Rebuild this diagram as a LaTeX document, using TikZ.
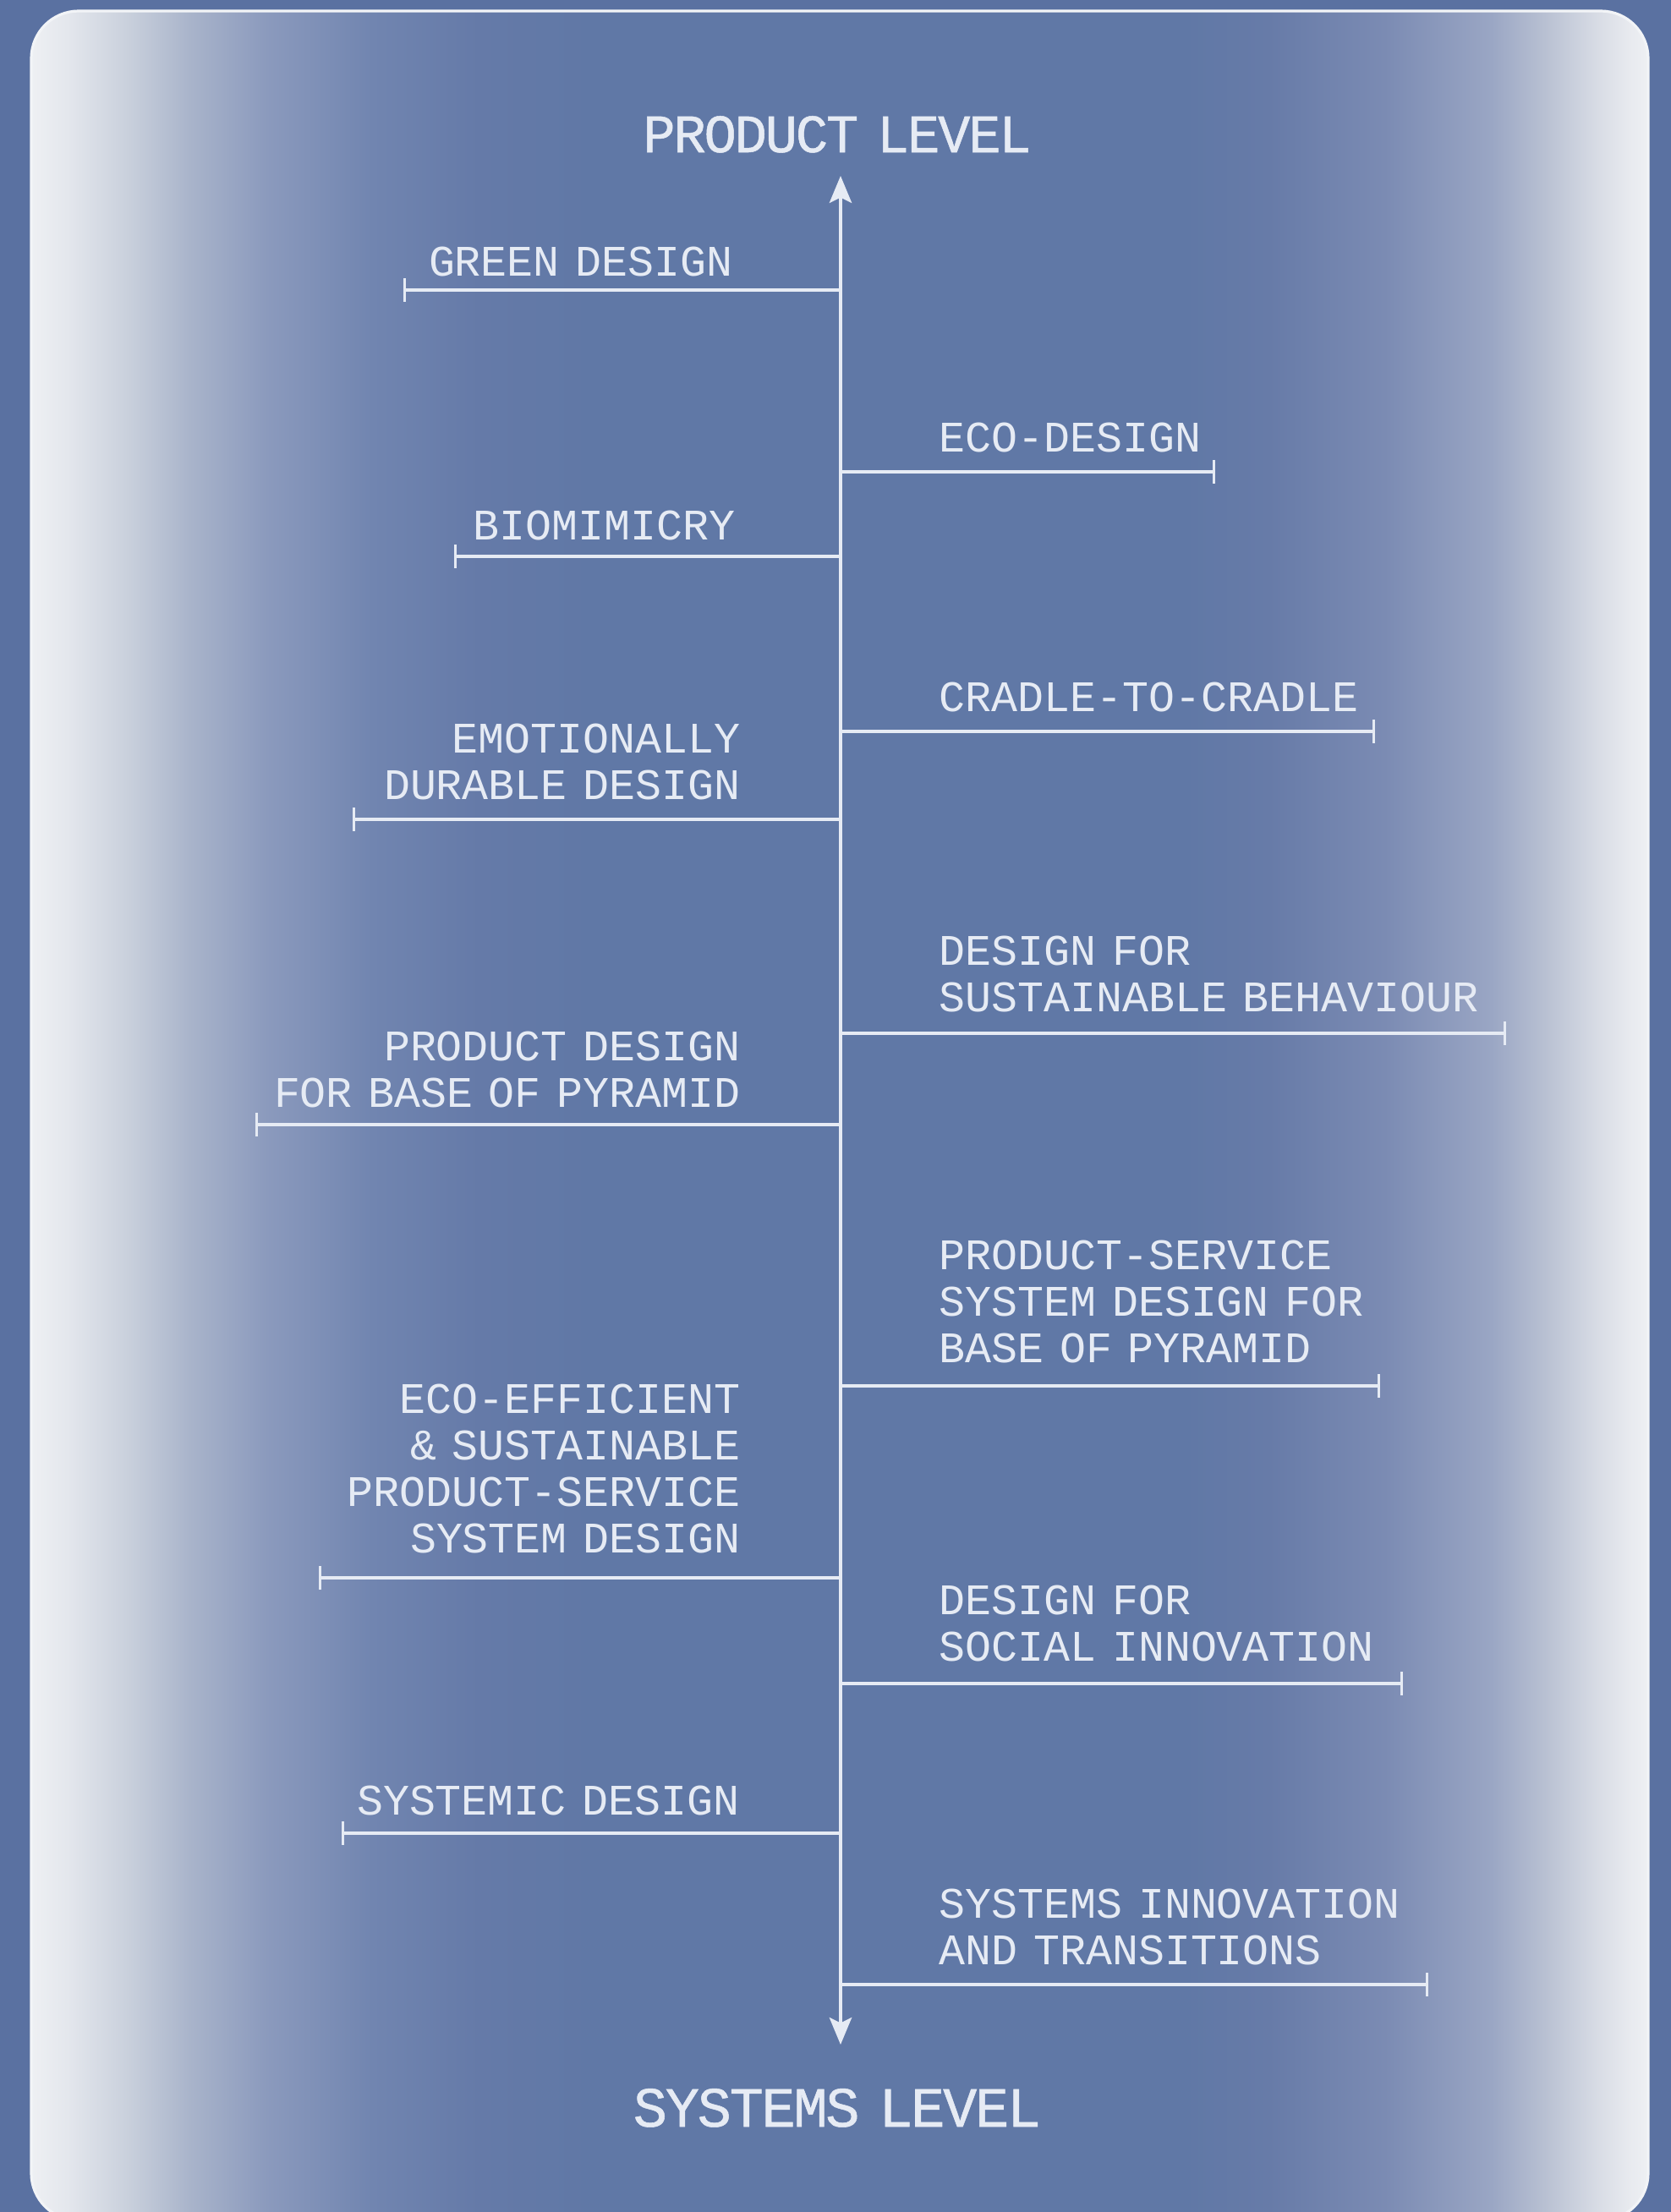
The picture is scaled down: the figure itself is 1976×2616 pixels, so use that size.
\documentclass[tikz,border=0pt]{standalone}
\usepackage{fontspec}
\usetikzlibrary{arrows.meta}

\newfontfamily\labelfont[WordSpace=0.6]{Liberation Mono}
\newfontfamily\headfont[FakeBold=0.8, LetterSpace=-3.6, WordSpace=0.6]{Liberation Mono}

\definecolor{outerblue}{HTML}{5A71A1}
\definecolor{inkwhite}{HTML}{E6EBF4}
\definecolor{rimwhite}{HTML}{F2F4F7}
% panel glow, from the white rim to the blue centre
\definecolor{g0}{HTML}{EEF0F3}
\definecolor{g1}{HTML}{E4E7ED}
\definecolor{g2}{HTML}{C9D0DC}
\definecolor{g3}{HTML}{A8B3CA}
\definecolor{g4}{HTML}{8B9ABD}
\definecolor{g5}{HTML}{7185B0}
\definecolor{g6}{HTML}{657AA8}
\definecolor{g7}{HTML}{6078A6}
\definecolor{h6}{HTML}{677BA8}
\definecolor{h5}{HTML}{7B8BB3}
\definecolor{h4}{HTML}{9AA6C4}
\definecolor{h3}{HTML}{B8C0D2}
\definecolor{h2}{HTML}{D8DCE5}
\definecolor{h1}{HTML}{E8EAEF}

\pgfdeclarehorizontalshading{panelglow}{100bp}{%
  color(0bp)=(g0); color(25bp)=(g0); color(26.1bp)=(g1); color(27.98bp)=(g2);
  color(29.97bp)=(g3); color(32.27bp)=(g4); color(35.54bp)=(g5); color(38.86bp)=(g6);
  color(42.34bp)=(g7); color(60.64bp)=(g7); color(63.26bp)=(h6); color(66.84bp)=(h5);
  color(70.14bp)=(h4); color(71.78bp)=(h3); color(73.43bp)=(h2); color(74.42bp)=(h1);
  color(75bp)=(g0); color(100bp)=(g0)}

\tikzset{
  axisline/.style={draw=inkwhite, line width=0.85pt,
    {Stealth[length=8pt, width=6.6pt, inset=1.6pt]}-{Stealth[length=8pt, width=6.6pt, inset=1.6pt]}},
  branch/.style={draw=inkwhite, line width=0.85pt, -{Bar[width=6.8pt]}},
  leftlabel/.style={anchor=south east, inner sep=0pt, align=right, text=inkwhite,
    font=\labelfont\fontsize{12.9pt}{13.75pt}\selectfont},
  rightlabel/.style={anchor=south west, inner sep=0pt, align=left, text=inkwhite,
    font=\labelfont\fontsize{12.9pt}{13.75pt}\selectfont},
  heading/.style={anchor=base, inner sep=0pt, text=inkwhite}
}

\begin{document}
\begin{tikzpicture}[x=0.25pt, y=-0.25pt]
  \useasboundingbox (0,0) rectangle (1976,2616);
  \clip (0,0) rectangle (1976,2616);
  \fill[outerblue] (0,0) rectangle (1976,2616);
  \path[shading=panelglow, draw=rimwhite, line width=0.8pt, rounded corners=14pt]
    (37,13) rectangle (1949,2626);

  % headings
  \node[heading, font=\headfont\fontsize{16pt}{18pt}\selectfont] (prod) at (990,180) {PRODUCT LEVEL};
  \node[heading, font=\headfont\fontsize{16.8pt}{19pt}\selectfont] (sys) at (990,2515) {SYSTEMS LEVEL};

  % main axis
  \coordinate (top) at (994,208);
  \coordinate (bottom) at (994,2418);
  \draw[axisline] (bottom) -- (top);

  % left branches
  \coordinate (l1a) at (994,343);  \coordinate (l1t) at (477,343);
  \draw[branch] (l1a) -- (l1t);
  \node[leftlabel] (l1) at (867,328) {GREEN DESIGN};

  \coordinate (l2a) at (994,658);  \coordinate (l2t) at (537,658);
  \draw[branch] (l2a) -- (l2t);
  \node[leftlabel] (l2) at (870,640) {BIOMIMICRY};

  \coordinate (l3a) at (994,969);  \coordinate (l3t) at (417,969);
  \draw[branch] (l3a) -- (l3t);
  \node[leftlabel] (l3) at (876,947) {EMOTIONALLY\\DURABLE DESIGN};

  \coordinate (l4a) at (994,1330); \coordinate (l4t) at (302,1330);
  \draw[branch] (l4a) -- (l4t);
  \node[leftlabel] (l4) at (876,1311) {PRODUCT DESIGN\\FOR BASE OF PYRAMID};

  \coordinate (l5a) at (994,1866); \coordinate (l5t) at (377,1866);
  \draw[branch] (l5a) -- (l5t);
  \node[leftlabel] (l5) at (876,1838) {ECO-EFFICIENT\\\& SUSTAINABLE\\PRODUCT-SERVICE\\SYSTEM DESIGN};

  \coordinate (l6a) at (994,2168); \coordinate (l6t) at (404,2168);
  \draw[branch] (l6a) -- (l6t);
  \node[leftlabel] (l6) at (875,2148) {SYSTEMIC DESIGN};

  % right branches
  \coordinate (r1a) at (994,558);  \coordinate (r1t) at (1437,558);
  \draw[branch] (r1a) -- (r1t);
  \node[rightlabel] (r1) at (1110,536) {ECO-DESIGN};

  \coordinate (r2a) at (994,865);  \coordinate (r2t) at (1626,865);
  \draw[branch] (r2a) -- (r2t);
  \node[rightlabel] (r2) at (1110,843) {CRADLE-TO-CRADLE};

  \coordinate (r3a) at (994,1222); \coordinate (r3t) at (1781,1222);
  \draw[branch] (r3a) -- (r3t);
  \node[rightlabel] (r3) at (1110,1198) {DESIGN FOR\\SUSTAINABLE BEHAVIOUR};

  \coordinate (r4a) at (994,1639); \coordinate (r4t) at (1632,1639);
  \draw[branch] (r4a) -- (r4t);
  \node[rightlabel] (r4) at (1110,1613) {PRODUCT-SERVICE\\SYSTEM DESIGN FOR\\BASE OF PYRAMID};

  \coordinate (r5a) at (994,1991); \coordinate (r5t) at (1659,1991);
  \draw[branch] (r5a) -- (r5t);
  \node[rightlabel] (r5) at (1110,1966) {DESIGN FOR\\SOCIAL INNOVATION};

  \coordinate (r6a) at (994,2347); \coordinate (r6t) at (1689,2347);
  \draw[branch] (r6a) -- (r6t);
  \node[rightlabel] (r6) at (1110,2325) {SYSTEMS INNOVATION\\AND TRANSITIONS};
\end{tikzpicture}
\end{document}
